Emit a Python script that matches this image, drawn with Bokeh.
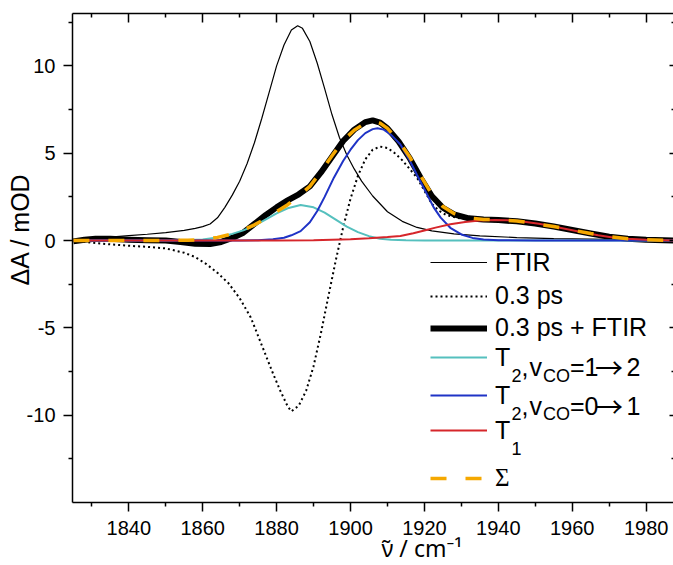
from bokeh.plotting import figure
from bokeh.models import (Range1d, FixedTicker, LinearAxis, Legend, LegendItem, Label, Title,
                          CustomLabelingPolicy)
from bokeh.embed import file_html
from bokeh.resources import INLINE

# ---------------- data ----------------
ftir_x = [1825, 1830, 1835, 1840, 1845, 1850, 1855, 1858, 1860, 1862, 1864, 1866, 1868, 1870, 1872,
          1874, 1876, 1878, 1880, 1882, 1884, 1885.7, 1887, 1889, 1891, 1893, 1895, 1897, 1899,
          1901, 1903, 1906, 1910, 1914, 1918, 1922, 1928, 1935, 1945, 1955, 1965, 1975, 1988]
ftir_y = [0.0, 0.12, 0.2, 0.28, 0.36, 0.45, 0.58, 0.7, 0.8, 0.95, 1.3, 1.9, 2.6, 3.4, 4.4,
          5.6, 7.0, 8.5, 10.0, 11.2, 12.05, 12.3, 12.15, 11.4, 10.15, 8.7, 7.2, 5.9, 4.9,
          4.1, 3.4, 2.55, 1.65, 1.1, 0.75, 0.55, 0.38, 0.27, 0.17, 0.11, 0.08, 0.05, 0.03]

ps_x = [1825, 1830, 1835, 1840, 1845, 1850, 1855, 1858, 1861, 1864, 1867, 1870, 1873, 1876, 1879,
        1881, 1883, 1884, 1886, 1888, 1890, 1892, 1894, 1896, 1898, 1900, 1902, 1904, 1906, 1908,
        1910, 1912, 1914, 1916, 1918, 1920, 1922, 1924, 1926, 1930, 1935, 1940, 1945, 1950, 1955,
        1960, 1965, 1970, 1975, 1980, 1988]
ps_y = [0.0, -0.12, -0.22, -0.3, -0.36, -0.45, -0.7, -0.95, -1.35, -1.85, -2.45, -3.3, -4.4, -6.0, -7.6,
        -8.6, -9.5, -9.78, -9.45, -8.6, -7.2, -5.3, -3.2, -1.15, 0.75, 2.4, 3.7, 4.65, 5.2, 5.38,
        5.3, 5.0, 4.6, 4.1, 3.6, 2.85, 2.1, 1.7, 1.45, 1.25, 1.15, 1.1, 1.02, 0.9, 0.75,
        0.55, 0.36, 0.2, 0.1, 0.05, 0.0]

sum_x = [1825, 1828, 1831, 1835, 1840, 1845, 1850, 1854, 1858, 1862, 1865, 1868, 1871, 1874, 1877,
         1880, 1883, 1886, 1889, 1892, 1895, 1898, 1901, 1904, 1906, 1908, 1910, 1913, 1916, 1919,
         1922, 1925, 1928, 1932, 1936, 1940, 1945, 1950, 1955, 1960, 1965, 1970, 1975, 1980, 1988]
sum_y = [-0.05, 0.05, 0.1, 0.1, 0.05, 0.02, 0.0, -0.08, -0.18, -0.2, -0.08, 0.15, 0.45, 0.95, 1.45,
         1.9, 2.3, 2.65, 3.1, 3.9, 4.8, 5.7, 6.35, 6.78, 6.88, 6.75, 6.42, 5.68, 4.72, 3.58,
         2.55, 1.88, 1.5, 1.27, 1.2, 1.17, 1.1, 0.98, 0.8, 0.6, 0.4, 0.22, 0.1, 0.04, 0.0]

t12_x = [1825, 1850, 1855, 1860, 1864, 1868, 1871, 1874, 1877, 1880, 1883, 1886.5, 1890, 1893,
         1896, 1899, 1902, 1905, 1908, 1911, 1915, 1920, 1988]
t12_y = [0.0, 0.0, 0.02, 0.06, 0.18, 0.38, 0.58, 0.85, 1.2, 1.55, 1.85, 2.03, 1.9, 1.6,
         1.2, 0.8, 0.48, 0.25, 0.1, 0.04, 0.01, 0.0, 0.0]

t01_x = [1825, 1870, 1875, 1879, 1882, 1884, 1886.5, 1889, 1891, 1893, 1895.5, 1898, 1900, 1902,
         1904, 1906, 1907.3, 1909, 1911, 1913.5, 1916, 1918, 1920.7, 1922.5, 1924.4, 1927, 1930,
         1933, 1936, 1940, 1950, 1988]
t01_y = [0.0, 0.0, 0.02, 0.08, 0.16, 0.3, 0.54, 1.05, 1.69, 2.5, 3.6, 4.55, 5.2, 5.75,
         6.15, 6.38, 6.43, 6.35, 6.05, 5.5, 4.6, 3.75, 2.65, 1.9, 1.31, 0.73, 0.35,
         0.15, 0.06, 0.02, 0.0, 0.0]

t1_x = [1825, 1880, 1890, 1900, 1905, 1910, 1913.5, 1917, 1920, 1923, 1927, 1931, 1935, 1939, 1943,
        1947, 1951, 1955, 1959, 1963, 1967, 1971, 1975, 1980, 1988]
t1_y = [0.0, 0.0, 0.02, 0.07, 0.13, 0.2, 0.26, 0.42, 0.58, 0.74, 0.93, 1.06, 1.15, 1.18, 1.16,
        1.08, 0.96, 0.8, 0.63, 0.46, 0.3, 0.18, 0.1, 0.04, 0.0]

sig_x = [1825, 1850, 1856, 1860, 1864, 1868, 1871, 1874, 1877, 1880, 1883, 1886, 1889, 1892, 1895,
         1898, 1901, 1904, 1906, 1908, 1910, 1913, 1916, 1919, 1922, 1925, 1928, 1932, 1936, 1940,
         1945, 1950, 1955, 1960, 1965, 1970, 1975, 1980, 1988]
sig_y = [0.0, 0.0, 0.02, 0.06, 0.18, 0.38, 0.6, 0.9, 1.25, 1.65, 2.05, 2.55, 3.1, 3.95, 4.85,
         5.72, 6.32, 6.72, 6.82, 6.72, 6.42, 5.72, 4.8, 3.7, 2.65, 1.95, 1.55, 1.3, 1.21, 1.18,
         1.12, 0.97, 0.8, 0.6, 0.4, 0.22, 0.1, 0.04, 0.0]

x_major = [1840, 1860, 1880, 1900, 1920, 1940, 1960, 1980]
x_minor = [1830, 1850, 1870, 1890, 1910, 1930, 1950, 1970]
y_major = [-10, -5, 0, 5, 10]
y_minor = [-12.5, -7.5, -2.5, 2.5, 7.5, 12.5]
y_labels = {-10: "-10", -5: "-5", 0: "0", 5: "5", 10: "10"}

# ---------------- figure ----------------
FONT = "Liberation Sans"
FL, FT, FB = 72, 13, 502   # frame left / top / bottom in canvas px

p = figure(width=673, height=565, output_backend="svg", toolbar_location=None,
           x_range=Range1d(1824.77, 1987.4), y_range=Range1d(-15, 13),
           min_border_left=FL, min_border_right=0, min_border_top=FT, min_border_bottom=565 - FB)
p.grid.visible = False
p.outline_line_color = None
p.background_fill_color = "white"
p.border_fill_color = "white"

NO_LABELS = CustomLabelingPolicy(code="""
if (indices != null && typeof indices.unset === "function") {
  for (let i = 0; i < indices.size; i++) { indices.unset(i) }
}
return indices
""")


def style_axis(ax, ticks, minor, tin, tout, labels=True):
    ax.ticker = FixedTicker(ticks=ticks, minor_ticks=minor)
    ax.axis_line_color = "black"
    ax.axis_line_width = 1.5
    ax.major_tick_line_width = 1.5
    ax.minor_tick_line_width = 1.5
    ax.major_tick_line_color = "black"
    ax.minor_tick_line_color = "black"
    ax.major_tick_in = tin
    ax.major_tick_out = tout
    ax.minor_tick_in = tin // 2 if tin else 0
    ax.minor_tick_out = tout // 2 if tout else 0
    if labels:
        ax.major_label_text_font = FONT
        ax.major_label_text_font_size = "20px"
        ax.major_label_text_color = "black"
    else:
        ax.major_label_text_font_size = "0px"
        ax.major_label_standoff = 0
        ax.major_label_policy = NO_LABELS


style_axis(p.xaxis[0], x_major, x_minor, 0, 9)
p.xaxis[0].major_label_standoff = 9
style_axis(p.yaxis[0], y_major, y_minor, 0, 9)
p.yaxis[0].major_label_standoff = 8
p.yaxis[0].major_label_overrides = y_labels

top = LinearAxis()
style_axis(top, x_major, x_minor, 9, 0, labels=False)
p.add_layout(top, "above")
right = LinearAxis()
style_axis(right, y_major, y_minor, 4, 0, labels=False)
right.axis_line_color = None
p.add_layout(right, "right")

# axis titles, placed where the reference has them
p.add_layout(Title(text="ΔA / mOD", align="left", offset=217, standoff=-20,
                   text_font=FONT, text_font_size="25px", text_font_style="normal",
                   text_color="black"), "left")
p.add_layout(Title(text="ν\u0303 / cm\u207b\u00b9", align="left", offset=309, standoff=-16,
                   text_font="Noto Sans", text_font_size="23px", text_font_style="normal",
                   text_color="black"), "below")

# ---------------- curves ----------------
r_ftir = p.line(ftir_x, ftir_y, line_color="black", line_width=1.2)
r_ps = p.line(ps_x, ps_y, line_color="black", line_width=2, line_dash="2 3")
r_sum = p.line(sum_x, sum_y, line_color="black", line_width=6, line_join="round")
r_t12 = p.line(t12_x, t12_y, line_color="#55C0BE", line_width=2)
r_t01 = p.line(t01_x, t01_y, line_color="#1F33C6", line_width=2)
r_t1 = p.line(t1_x, t1_y, line_color="#D6262B", line_width=2)
r_sig = p.line(sig_x, sig_y, line_color="#F5A800", line_width=3.5, line_dash="16 19")

# ---------------- legend (one legend per row, rows unevenly spaced) ----------------
LEG_H = 28
rows = [("FTIR", r_ftir, 262.5, FONT), ("0.3 ps", r_ps, 296.2, FONT),
        ("0.3 ps + FTIR", r_sum, 328.0, FONT), ("T", r_t12, 357.5, FONT),
        ("T", r_t01, 395.8, FONT), ("T", r_t1, 430.8, FONT), ("Σ", r_sig, 478.3, "Liberation Serif")]
for text, rend, cy, font in rows:
    leg = Legend(items=[LegendItem(label=text, renderers=[rend])],
                 location=(430 - FL, FB - cy - LEG_H / 2),
                 padding=0, margin=0, spacing=0,
                 glyph_width=57, glyph_height=20, label_height=20, label_standoff=8,
                 border_line_color=None, background_fill_alpha=0,
                 label_text_font=font, label_text_font_size="25px", label_text_color="black")
    p.add_layout(leg)


def lab(text, x, y, size, font=FONT):
    p.add_layout(Label(x=x - FL, y=FB - y, x_units="screen", y_units="screen", text=text,
                       text_font=font, text_font_size=size, text_color="black",
                       text_align="left", text_baseline="alphabetic"))


for base, sub, a, b in [(366.7, "2", "=1", "2"), (405.0, "2", "=0", "1"), (440.0, "1", None, None)]:
    lab(sub, 511, base + 8.3, "18px")
    if a:
        lab(",", 521, base, "25px")
        lab("v", 529, base, "25px")
        lab("CO", 542.5, base + 8.3, "18px")
        lab(a, 569.5, base, "25px")
        lab("→", 594.5, base, "28px", font="Noto Sans CJK SC")
        lab(b, 626, base, "25px")

open("out.html", "w").write(file_html(p, INLINE))
